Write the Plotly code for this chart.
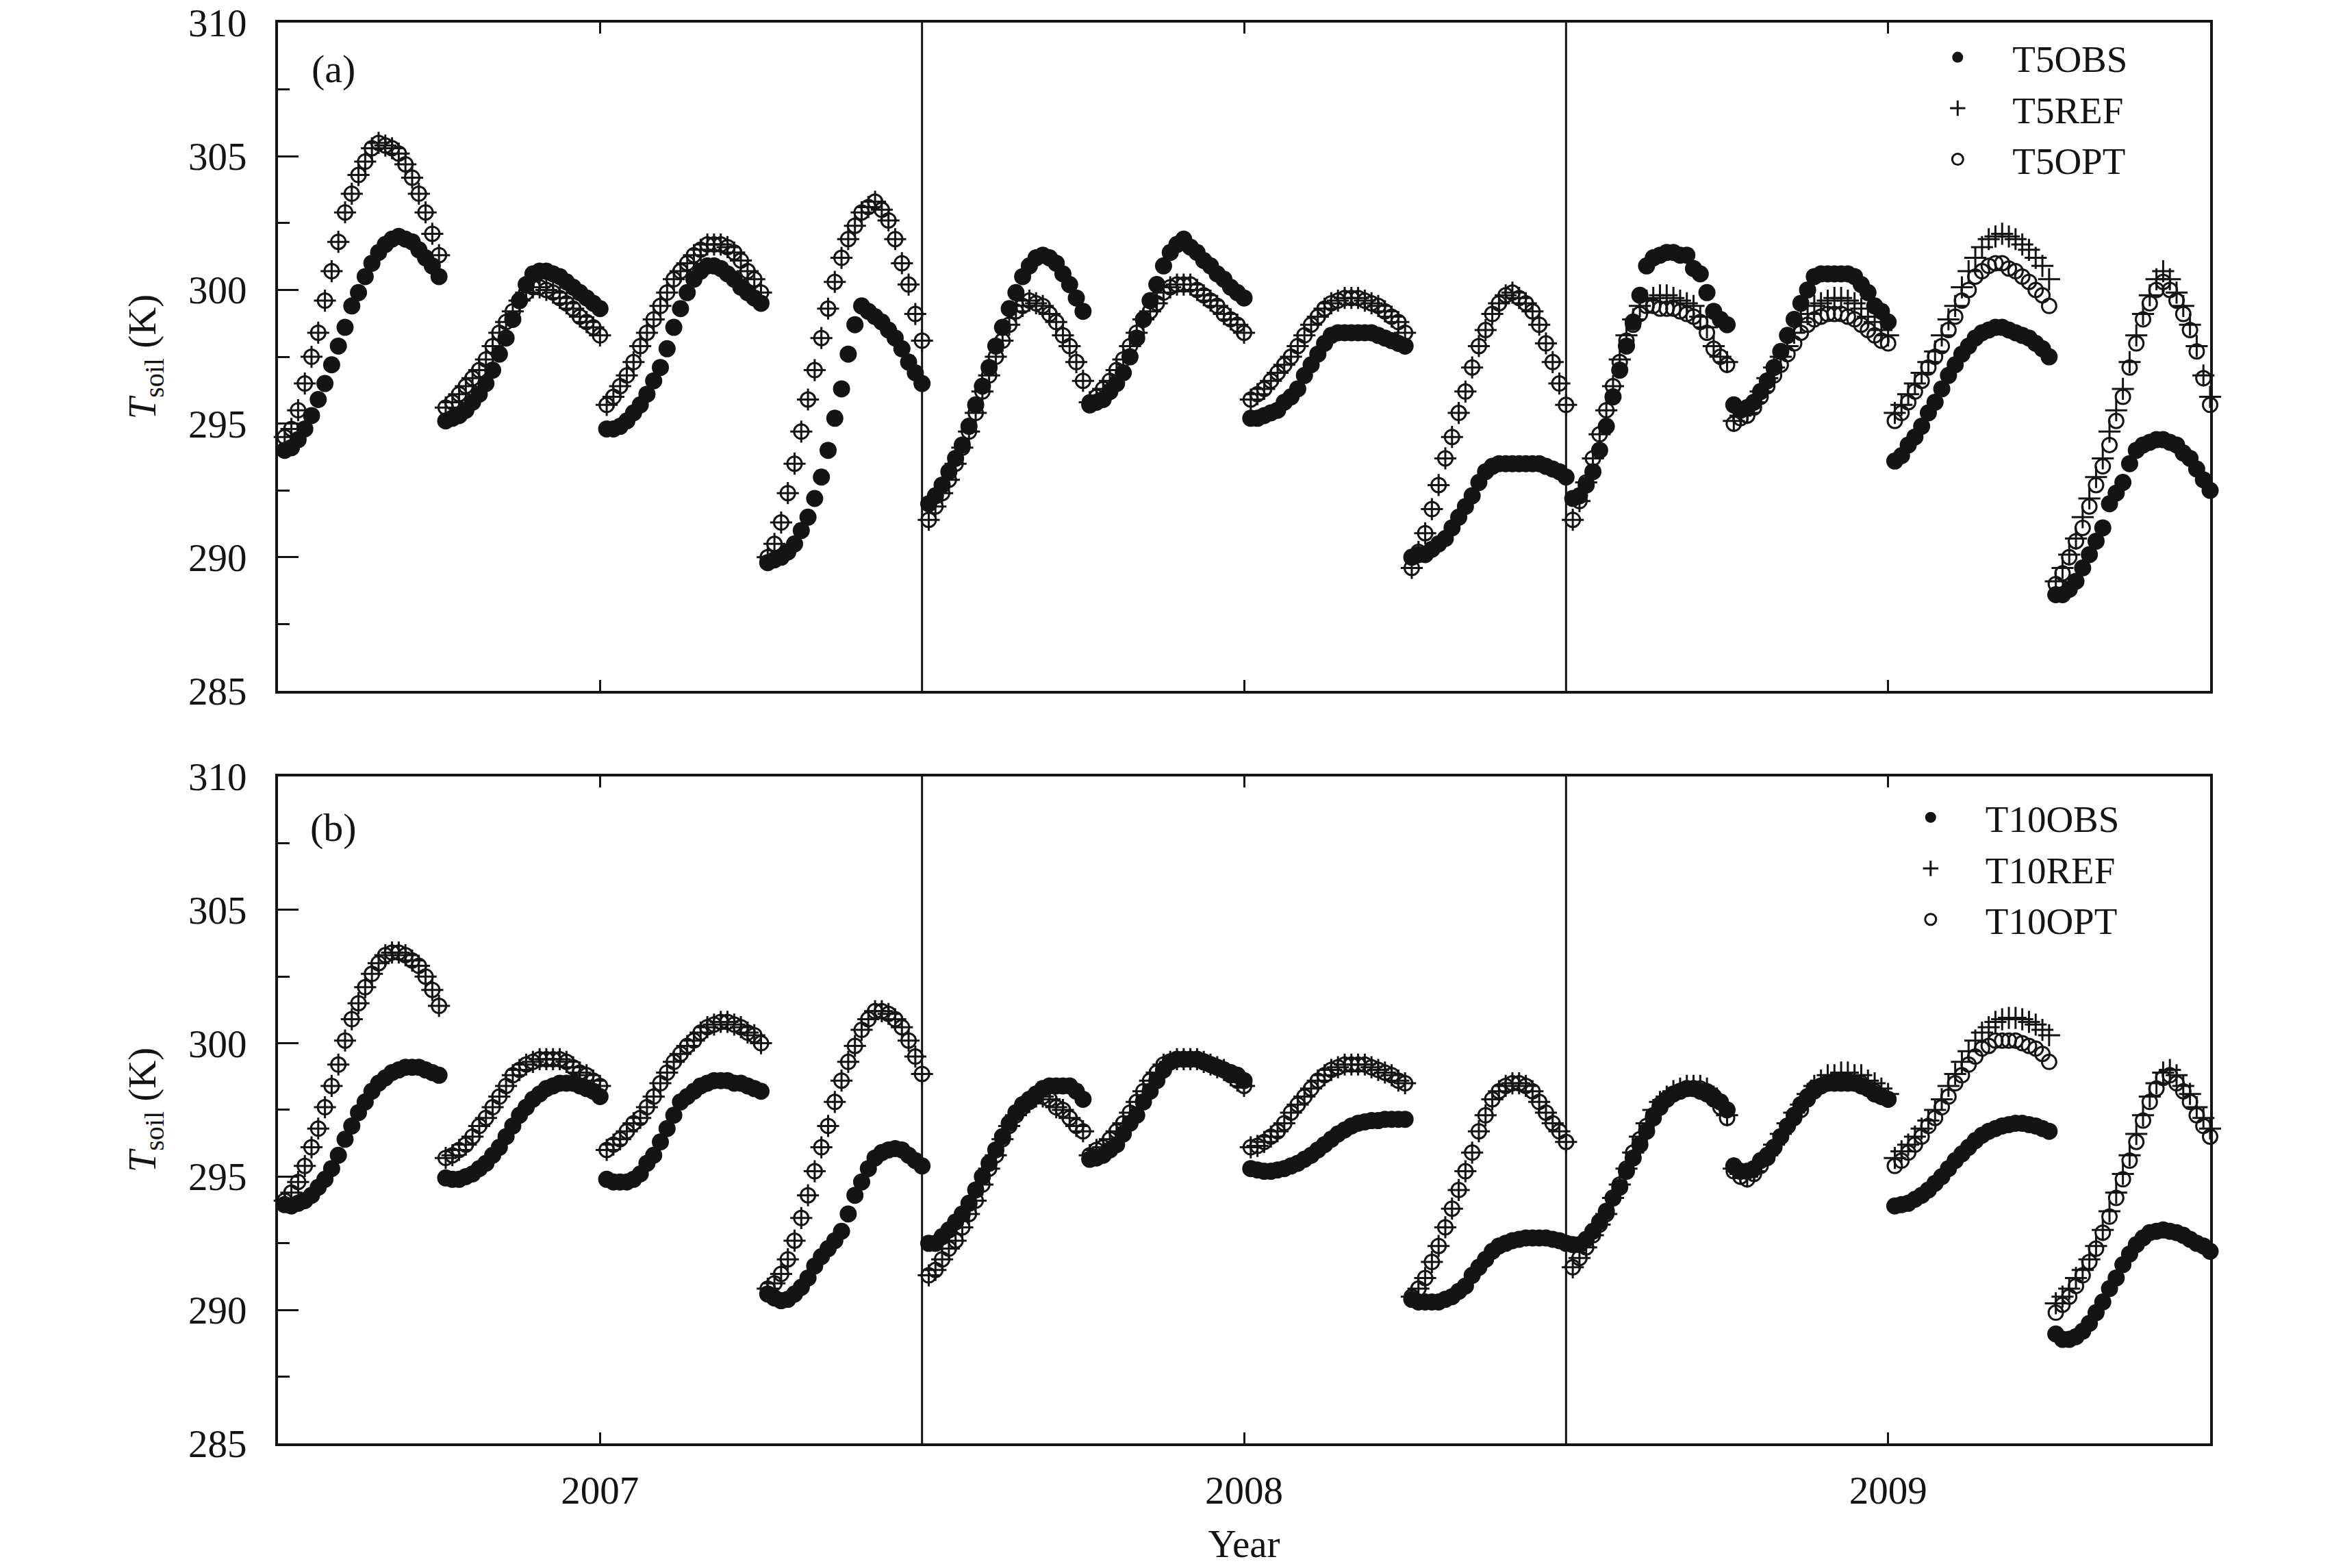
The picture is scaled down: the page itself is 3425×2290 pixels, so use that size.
import plotly.graph_objects as go

# hodinove hodnoty, 12 dni po 24 hodinach, teplota pudy [K]
T5OBS = [
    [294.0, 294.1, 294.4, 294.8, 295.3, 295.9, 296.5, 297.2, 297.9, 298.6, 299.4, 299.9, 300.5, 301.0, 301.4, 301.7, 301.9, 302.0, 301.9, 301.8, 301.5, 301.2, 300.9, 300.5],
    [295.1, 295.2, 295.3, 295.5, 295.8, 296.1, 296.5, 297.0, 297.6, 298.2, 298.9, 299.6, 300.2, 300.6, 300.7, 300.7, 300.6, 300.5, 300.3, 300.1, 299.9, 299.7, 299.5, 299.3],
    [294.8, 294.8, 294.9, 295.1, 295.4, 295.7, 296.1, 296.6, 297.1, 297.8, 298.6, 299.3, 299.9, 300.4, 300.7, 300.9, 300.9, 300.8, 300.6, 300.4, 300.1, 299.9, 299.7, 299.5],
    [289.8, 289.9, 290.0, 290.2, 290.5, 291.0, 291.5, 292.2, 293.0, 294.0, 295.2, 296.3, 297.6, 298.7, 299.4, 299.2, 299.0, 298.8, 298.5, 298.2, 297.8, 297.3, 296.9, 296.5],
    [292.0, 292.3, 292.7, 293.2, 293.7, 294.2, 294.9, 295.7, 296.4, 297.1, 297.9, 298.6, 299.3, 299.9, 300.5, 300.9, 301.2, 301.3, 301.2, 301.0, 300.6, 300.2, 299.7, 299.2],
    [295.7, 295.8, 295.9, 296.2, 296.5, 296.9, 297.5, 298.2, 298.9, 299.6, 300.2, 300.9, 301.4, 301.7, 301.9, 301.6, 301.4, 301.1, 300.9, 300.6, 300.4, 300.1, 299.9, 299.7],
    [295.2, 295.2, 295.3, 295.4, 295.5, 295.8, 296.0, 296.3, 296.8, 297.2, 297.6, 298.0, 298.3, 298.4, 298.4, 298.4, 298.4, 298.4, 298.4, 298.3, 298.2, 298.1, 298.0, 297.9],
    [290.0, 290.1, 290.1, 290.3, 290.5, 290.7, 291.1, 291.5, 291.9, 292.3, 292.8, 293.2, 293.4, 293.5, 293.5, 293.5, 293.5, 293.5, 293.5, 293.5, 293.4, 293.3, 293.2, 293.0],
    [292.2, 292.3, 292.7, 293.2, 294.0, 294.9, 296.0, 297.0, 297.9, 298.8, 299.8, 300.9, 301.2, 301.3, 301.4, 301.4, 301.3, 301.3, 300.8, 300.6, 299.9, 299.2, 298.9, 298.7],
    [295.7, 295.5, 295.6, 295.8, 296.2, 296.6, 297.1, 297.7, 298.3, 298.9, 299.5, 300.0, 300.5, 300.6, 300.6, 300.6, 300.6, 300.6, 300.5, 300.2, 299.9, 299.4, 299.2, 298.8],
    [293.6, 293.8, 294.2, 294.5, 294.9, 295.4, 295.8, 296.3, 296.8, 297.2, 297.6, 297.9, 298.2, 298.4, 298.5, 298.6, 298.6, 298.5, 298.4, 298.3, 298.2, 298.0, 297.8, 297.5],
    [288.6, 288.6, 288.8, 289.1, 289.6, 290.1, 290.6, 291.1, 292.0, 292.4, 292.8, 293.5, 294.0, 294.2, 294.3, 294.4, 294.4, 294.3, 294.2, 293.9, 293.7, 293.3, 292.9, 292.5],
]

T5REF = [
    [294.5, 294.8, 295.5, 296.5, 297.5, 298.4, 299.6, 300.7, 301.8, 302.9, 303.6, 304.3, 304.8, 305.3, 305.5, 305.4, 305.3, 305.1, 304.7, 304.2, 303.6, 302.9, 302.1, 301.3],
    [295.6, 295.8, 296.1, 296.4, 296.7, 297.0, 297.4, 297.9, 298.4, 298.8, 299.2, 299.6, 299.9, 300.1, 300.1, 300.0, 299.9, 299.7, 299.5, 299.3, 299.0, 298.8, 298.6, 298.3],
    [295.7, 296.0, 296.4, 296.8, 297.3, 297.9, 298.4, 298.9, 299.4, 299.9, 300.4, 300.7, 301.0, 301.3, 301.5, 301.7, 301.7, 301.7, 301.6, 301.4, 301.1, 300.7, 300.4, 299.9],
    [290.0, 290.5, 291.3, 292.4, 293.5, 294.7, 295.9, 297.0, 298.2, 299.3, 300.3, 301.2, 301.9, 302.4, 302.9, 303.1, 303.3, 303.0, 302.6, 301.9, 301.0, 300.2, 299.1, 298.1],
    [291.4, 291.9, 292.4, 292.9, 293.5, 294.1, 294.7, 295.4, 296.2, 296.8, 297.5, 298.1, 298.7, 299.2, 299.4, 299.6, 299.5, 299.4, 299.1, 298.8, 298.3, 297.9, 297.3, 296.6],
    [295.8, 296.0, 296.3, 296.6, 297.0, 297.4, 297.9, 298.4, 298.9, 299.2, 299.5, 299.9, 300.1, 300.2, 300.2, 300.2, 300.0, 299.8, 299.6, 299.4, 299.1, 298.9, 298.7, 298.4],
    [295.9, 296.1, 296.3, 296.6, 296.9, 297.2, 297.5, 297.9, 298.3, 298.7, 299.0, 299.3, 299.5, 299.6, 299.7, 299.7, 299.7, 299.6, 299.5, 299.4, 299.2, 299.0, 298.8, 298.4],
    [289.6, 290.2, 290.9, 291.8, 292.7, 293.7, 294.5, 295.4, 296.2, 297.1, 297.9, 298.5, 299.1, 299.5, 299.8, 299.9, 299.7, 299.5, 299.2, 298.7, 298.0, 297.3, 296.5, 295.7],
    [291.4, 292.1, 292.8, 293.7, 294.6, 295.5, 296.4, 297.4, 298.3, 298.9, 299.4, 299.6, 299.7, 299.8, 299.8, 299.7, 299.6, 299.5, 299.4, 299.0, 298.6, 297.9, 297.5, 297.3],
    [295.1, 295.3, 295.4, 295.8, 296.2, 296.7, 297.1, 297.5, 297.9, 298.4, 298.8, 299.1, 299.4, 299.5, 299.6, 299.7, 299.7, 299.6, 299.5, 299.3, 299.0, 298.8, 298.5, 298.3],
    [295.4, 295.7, 296.1, 296.5, 296.9, 297.3, 297.7, 298.3, 298.9, 299.4, 300.1, 300.7, 301.2, 301.6, 301.9, 302.0, 302.1, 302.0, 301.9, 301.7, 301.5, 301.2, 300.9, 300.4],
    [289.1, 289.6, 290.1, 290.7, 291.5, 292.2, 293.0, 293.7, 294.7, 295.5, 296.3, 297.3, 298.3, 299.1, 299.8, 300.4, 300.7, 300.4, 299.9, 299.4, 298.7, 297.9, 296.8, 296.0],
]

# prvnich 8 dni se OPT kryje s REF
T5OPT = T5REF[:8] + [
    [291.4, 292.1, 292.8, 293.7, 294.6, 295.5, 296.4, 297.3, 298.1, 298.7, 299.1, 299.4, 299.4, 299.3, 299.3, 299.3, 299.2, 299.1, 299.0, 298.8, 298.4, 297.8, 297.5, 297.2],
    [295.0, 295.2, 295.3, 295.6, 296.0, 296.4, 296.8, 297.2, 297.6, 298.0, 298.4, 298.7, 298.9, 299.0, 299.1, 299.1, 299.1, 299.0, 298.9, 298.7, 298.5, 298.3, 298.1, 298.0],
    [295.1, 295.4, 295.8, 296.2, 296.6, 297.1, 297.5, 297.9, 298.5, 299.0, 299.6, 300.0, 300.5, 300.7, 300.9, 301.0, 301.0, 300.8, 300.7, 300.5, 300.3, 300.0, 299.8, 299.4],
    [289.0, 289.4, 290.0, 290.6, 291.1, 291.9, 292.7, 293.4, 294.2, 295.1, 296.0, 297.1, 298.0, 298.9, 299.5, 300.0, 300.3, 300.0, 299.6, 299.1, 298.5, 297.7, 296.7, 295.7],
]

T10OBS = [
    [293.95, 293.9, 294.0, 294.1, 294.3, 294.6, 294.9, 295.3, 295.8, 296.4, 296.9, 297.4, 297.8, 298.2, 298.5, 298.7, 298.9, 299.0, 299.1, 299.1, 299.1, 299.0, 298.9, 298.8],
    [294.95, 294.9, 294.9, 295.0, 295.1, 295.3, 295.5, 295.8, 296.1, 296.5, 296.9, 297.3, 297.6, 297.9, 298.1, 298.3, 298.4, 298.5, 298.5, 298.5, 298.4, 298.3, 298.2, 298.0],
    [294.9, 294.8, 294.8, 294.8, 294.9, 295.1, 295.5, 295.8, 296.3, 296.8, 297.3, 297.8, 298.0, 298.2, 298.4, 298.5, 298.6, 298.6, 298.6, 298.5, 298.5, 298.4, 298.3, 298.2],
    [290.6, 290.45, 290.35, 290.4, 290.6, 290.85, 291.2, 291.65, 292.0, 292.3, 292.6, 292.95, 293.6, 294.3, 294.8, 295.3, 295.7, 295.9, 296.0, 296.05, 296.0, 295.8, 295.6, 295.4],
    [292.5, 292.5, 292.75, 293.0, 293.3, 293.6, 294.0, 294.5, 295.0, 295.5, 296.0, 296.5, 297.0, 297.4, 297.7, 297.9, 298.1, 298.3, 298.4, 298.4, 298.4, 298.4, 298.2, 297.9],
    [295.65, 295.7, 295.8, 296.0, 296.2, 296.6, 297.0, 297.3, 297.8, 298.2, 298.6, 299.0, 299.3, 299.4, 299.4, 299.4, 299.4, 299.3, 299.2, 299.1, 299.0, 298.9, 298.8, 298.6],
    [295.3, 295.25, 295.2, 295.2, 295.25, 295.3, 295.4, 295.5, 295.65, 295.8, 296.0, 296.2, 296.4, 296.6, 296.75, 296.9, 297.0, 297.05, 297.1, 297.1, 297.15, 297.15, 297.15, 297.15],
    [290.4, 290.3, 290.3, 290.3, 290.3, 290.4, 290.5, 290.7, 290.9, 291.3, 291.6, 291.9, 292.2, 292.4, 292.5, 292.6, 292.65, 292.7, 292.7, 292.7, 292.7, 292.65, 292.6, 292.5],
    [292.45, 292.45, 292.65, 292.95, 293.3, 293.7, 294.2, 294.6, 295.2, 295.7, 296.2, 296.7, 297.2, 297.6, 297.9, 298.1, 298.2, 298.3, 298.3, 298.2, 298.1, 298.0, 297.8, 297.5],
    [295.4, 295.2, 295.2, 295.3, 295.6, 295.8, 296.1, 296.5, 296.9, 297.3, 297.7, 298.0, 298.3, 298.4, 298.5, 298.5, 298.5, 298.5, 298.5, 298.4, 298.3, 298.1, 298.0, 297.9],
    [293.9, 293.95, 294.0, 294.15, 294.3, 294.5, 294.75, 295.0, 295.3, 295.6, 295.85, 296.1, 296.35, 296.55, 296.7, 296.8, 296.9, 296.95, 297.0, 297.0, 296.95, 296.9, 296.8, 296.7],
    [289.1, 288.9, 288.9, 289.0, 289.2, 289.5, 289.9, 290.3, 290.8, 291.2, 291.7, 292.1, 292.45, 292.7, 292.9, 292.95, 293.0, 292.95, 292.9, 292.8, 292.65, 292.5, 292.4, 292.2],
]

T10REF = [
    [294.1, 294.4, 294.8, 295.4, 296.1, 296.8, 297.6, 298.4, 299.2, 300.1, 300.9, 301.5, 302.1, 302.6, 303.0, 303.3, 303.4, 303.4, 303.3, 303.1, 302.9, 302.5, 302.0, 301.4],
    [295.7, 295.8, 296.0, 296.2, 296.5, 296.9, 297.2, 297.6, 298.0, 298.4, 298.8, 299.0, 299.2, 299.3, 299.4, 299.4, 299.4, 299.4, 299.3, 299.1, 298.9, 298.8, 298.6, 298.4],
    [296.0, 296.2, 296.4, 296.7, 297.0, 297.2, 297.6, 298.0, 298.5, 298.9, 299.3, 299.6, 299.9, 300.1, 300.4, 300.6, 300.7, 300.8, 300.8, 300.7, 300.6, 300.4, 300.3, 300.0],
    [290.8, 291.0, 291.35, 291.9, 292.6, 293.45, 294.3, 295.2, 296.1, 296.9, 297.8, 298.6, 299.3, 299.9, 300.5, 300.9, 301.2, 301.2, 301.1, 300.9, 300.6, 300.1, 299.5, 298.85],
    [291.3, 291.5, 291.9, 292.3, 292.6, 293.1, 293.6, 294.1, 294.7, 295.3, 295.8, 296.4, 296.9, 297.3, 297.6, 297.8, 298.0, 298.0, 297.9, 297.6, 297.5, 297.2, 296.9, 296.7],
    [295.8, 296.0, 296.1, 296.4, 296.7, 297.0, 297.4, 297.8, 298.2, 298.6, 298.9, 299.2, 299.3, 299.4, 299.4, 299.4, 299.4, 299.3, 299.2, 299.1, 299.0, 298.8, 298.6, 298.4],
    [296.1, 296.15, 296.3, 296.5, 296.7, 297.0, 297.4, 297.7, 298.0, 298.3, 298.6, 298.8, 299.0, 299.1, 299.2, 299.2, 299.2, 299.2, 299.1, 299.0, 298.9, 298.8, 298.6, 298.5],
    [290.5, 290.8, 291.2, 291.8, 292.4, 293.1, 293.8, 294.5, 295.2, 295.9, 296.7, 297.3, 297.9, 298.2, 298.4, 298.5, 298.5, 298.4, 298.2, 297.8, 297.4, 297.0, 296.7, 296.3],
    [291.6, 291.95, 292.35, 292.8, 293.2, 293.6, 294.2, 294.7, 295.3, 295.9, 296.5, 297.0, 297.5, 297.8, 298.0, 298.2, 298.3, 298.4, 298.4, 298.4, 298.3, 298.0, 297.7, 297.3],
    [295.3, 295.1, 295.0, 295.2, 295.5, 295.8, 296.2, 296.6, 297.0, 297.4, 297.7, 298.1, 298.4, 298.6, 298.8, 298.8, 298.9, 298.9, 298.8, 298.8, 298.6, 298.5, 298.3, 298.1],
    [295.7, 295.95, 296.2, 296.5, 296.8, 297.1, 297.5, 297.9, 298.4, 298.85, 299.3, 299.7, 300.1, 300.4, 300.6, 300.8, 300.9, 300.95, 300.95, 300.9, 300.8, 300.7, 300.5, 300.3],
    [290.25, 290.5, 290.8, 291.2, 291.5, 291.9, 292.4, 293.0, 293.7, 294.4, 295.1, 295.8, 296.6, 297.3, 298.0, 298.5, 298.9, 299.0, 298.8, 298.4, 298.1, 297.6, 297.2, 296.8],
]

T10OPT = T10REF[:8] + [
    [291.6, 291.95, 292.35, 292.8, 293.2, 293.6, 294.2, 294.7, 295.3, 295.9, 296.4, 296.9, 297.3, 297.7, 297.9, 298.1, 298.2, 298.3, 298.3, 298.3, 298.2, 297.9, 297.6, 297.2],
    [295.2, 295.0, 294.9, 295.1, 295.4, 295.7, 296.1, 296.5, 296.9, 297.2, 297.5, 297.9, 298.2, 298.4, 298.5, 298.6, 298.6, 298.6, 298.5, 298.5, 298.3, 298.2, 298.0, 297.9],
    [295.4, 295.6, 295.9, 296.2, 296.5, 296.9, 297.2, 297.6, 298.0, 298.5, 298.8, 299.2, 299.5, 299.8, 299.9, 300.1, 300.1, 300.1, 300.1, 300.0, 299.9, 299.8, 299.6, 299.3],
    [289.9, 290.2, 290.5, 290.9, 291.3, 291.8, 292.3, 292.9, 293.5, 294.2, 294.9, 295.6, 296.3, 297.1, 297.8, 298.3, 298.7, 298.8, 298.5, 298.2, 297.8, 297.3, 296.9, 296.5],
]

roky = ["2007", "2008", "2009"]
FONT = "Times New Roman, Liberation Serif, serif"
CERNA = "#141414"


def rozbal(dny):
    hodnoty = [v for den in dny for v in den]
    return list(range(1, len(hodnoty) + 1)), hodnoty


def pridej_serie(fig, obs, ref, opt, hloubka, xa, ya, leg):
    x, y = rozbal(obs)
    fig.add_trace(go.Scatter(
        x=x, y=y, mode="markers", name=f"T{hloubka}OBS",
        marker=dict(symbol="circle", size=25, color=CERNA),
        xaxis=xa, yaxis=ya, legend=leg, cliponaxis=False,
    ))
    x, y = rozbal(ref)
    fig.add_trace(go.Scatter(
        x=x, y=y, mode="markers", name=f"T{hloubka}REF",
        marker=dict(symbol="cross-thin-open", size=23, color=CERNA,
                    line=dict(width=3, color=CERNA)),
        xaxis=xa, yaxis=ya, legend=leg, cliponaxis=False,
    ))
    x, y = rozbal(opt)
    fig.add_trace(go.Scatter(
        x=x, y=y, mode="markers", name=f"T{hloubka}OPT",
        marker=dict(symbol="circle-open", size=21, color=CERNA,
                    line=dict(width=3, color=CERNA)),
        xaxis=xa, yaxis=ya, legend=leg, cliponaxis=False,
    ))


fig = go.Figure()
pridej_serie(fig, T5OBS, T5REF, T5OPT, 5, "x", "y", "legend")
pridej_serie(fig, T10OBS, T10REF, T10OPT, 10, "x2", "y2", "legend2")

n = sum(len(d) for d in T5OBS)
stred_roku = [n / 6, n / 2, 5 * n / 6]

osa_x = dict(
    range=[0, n], tickvals=stred_roku, ticktext=roky,
    ticks="inside", ticklen=16, tickwidth=3, tickcolor=CERNA,
    showline=True, linewidth=4, linecolor=CERNA, mirror="ticks",
    showgrid=False, zeroline=False, automargin=False,
    tickfont=dict(family=FONT, size=57, color=CERNA),
)
osa_y = dict(
    range=[285, 310], tick0=285, dtick=5,
    ticks="inside", ticklen=30, tickwidth=3, tickcolor=CERNA,
    minor=dict(dtick=2.5, ticks="inside", ticklen=17, tickwidth=3, tickcolor=CERNA),
    showline=True, linewidth=4, linecolor=CERNA, mirror=True,
    showgrid=False, zeroline=False, automargin=False,
    tickfont=dict(family=FONT, size=57, color=CERNA),
    ticklabelstandoff=30, ticklabeloverflow="allow",
    title=dict(text="<i>T</i><sub>soil</sub> (K)", standoff=30,
               font=dict(family=FONT, size=57, color=CERNA)),
)

legenda = dict(xanchor="left", yanchor="top", bgcolor="rgba(0,0,0,0)",
               itemwidth=150, font=dict(family=FONT, size=55, color=CERNA))

# stranka ma okraj 8 px, proto jsou okraje o 8 px posunute
fig.update_layout(
    width=3425, height=2290,
    paper_bgcolor="white", plot_bgcolor="white",
    font=dict(family=FONT, size=57, color=CERNA),
    margin=dict(l=398, r=205, t=25, b=190),
    xaxis=dict(osa_x, anchor="y", domain=[0, 1], showticklabels=False),
    yaxis=dict(osa_y, anchor="x", domain=[0.5296, 1]),
    xaxis2=dict(osa_x, anchor="y2", domain=[0, 1], ticklabelstandoff=16,
                title=dict(text="Year", standoff=28,
                           font=dict(family=FONT, size=57, color=CERNA))),
    yaxis2=dict(osa_y, anchor="x2", domain=[0, 0.4694]),
    legend=dict(legenda, x=0.841, y=0.996),
    legend2=dict(legenda, x=0.827, y=0.461),
    showlegend=True,
)

# svisle cary oddelujici roky
for xa, ya in [("x", "y"), ("x2", "y2")]:
    for hranice in [n / 3, 2 * n / 3]:
        fig.add_shape(type="line", xref=xa, yref=f"{ya} domain",
                      x0=hranice, x1=hranice, y0=0, y1=1,
                      line=dict(color=CERNA, width=3))

fig.add_annotation(text="(a)", xref="x domain", yref="y domain", x=0.0287, y=0.931,
                   xanchor="center", yanchor="middle",
                   showarrow=False, font=dict(family=FONT, size=58, color=CERNA))
fig.add_annotation(text="(b)", xref="x2 domain", yref="y2 domain", x=0.0287, y=0.924,
                   xanchor="center", yanchor="middle",
                   showarrow=False, font=dict(family=FONT, size=58, color=CERNA))

fig.write_html("out.html")
